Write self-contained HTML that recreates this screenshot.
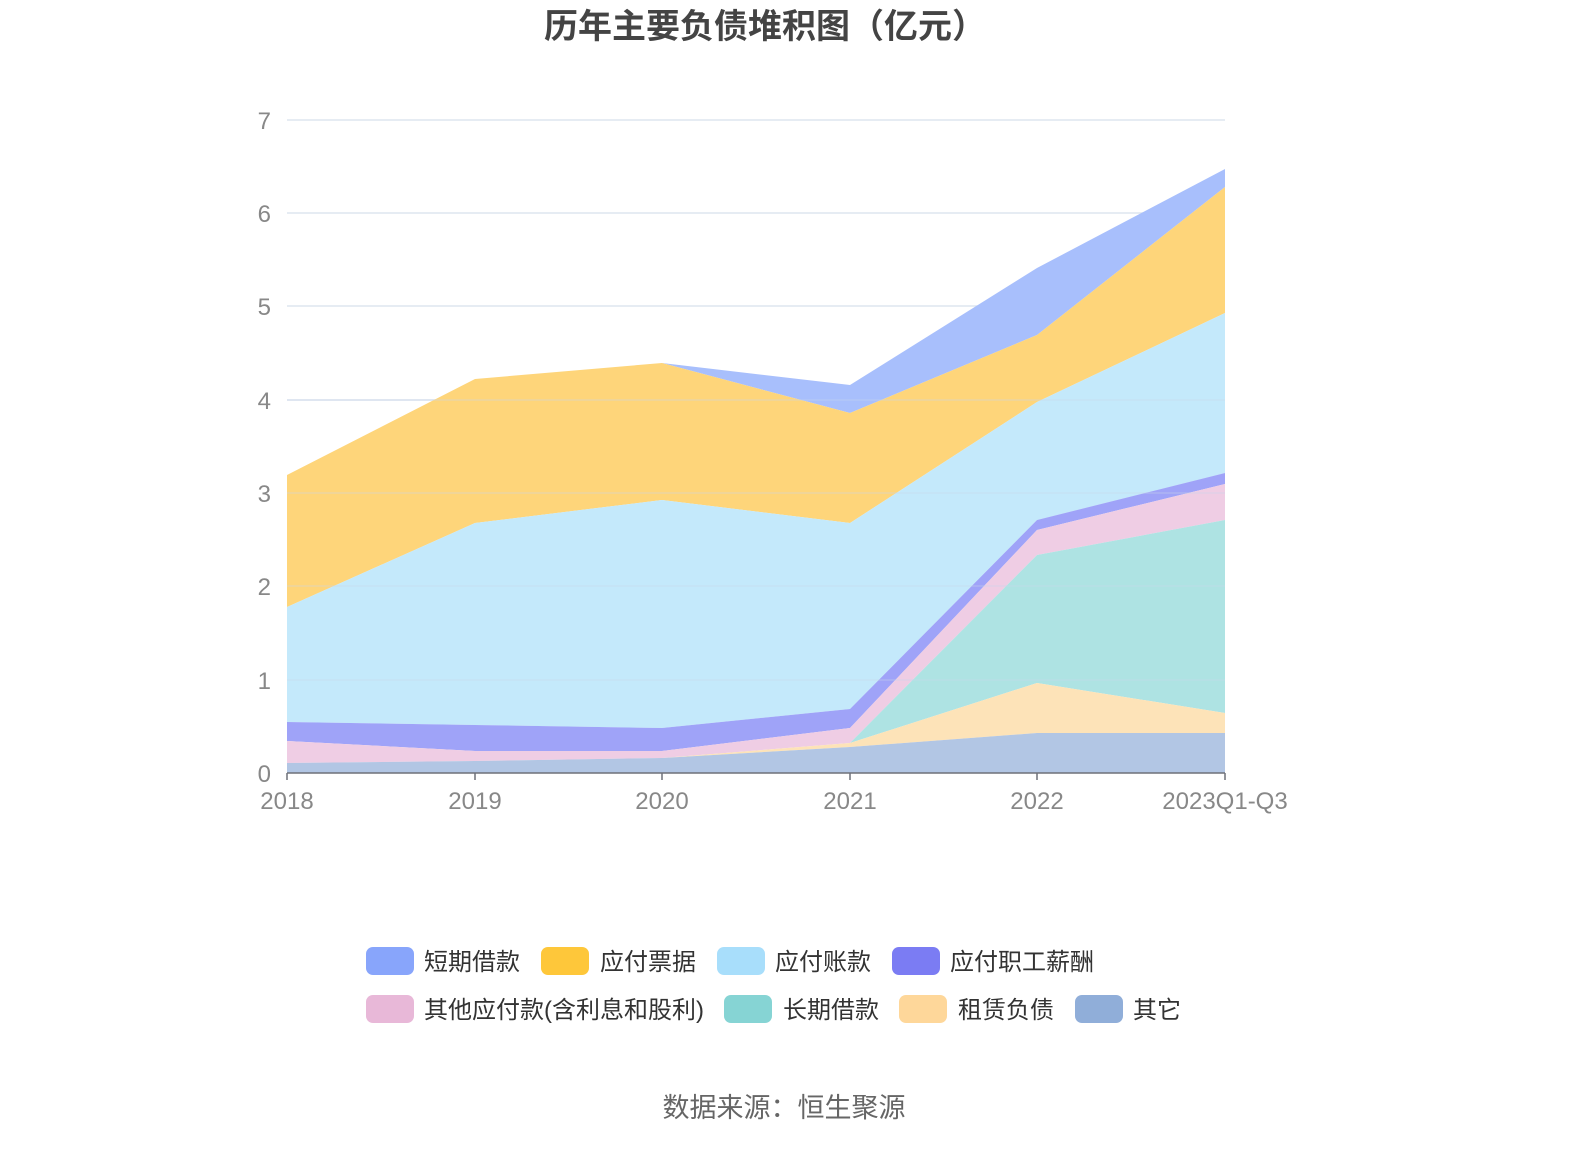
<!DOCTYPE html>
<html><head><meta charset="utf-8"><style>
body{margin:0;background:#fff;}
svg text{font-family:"Liberation Sans","Noto Sans CJK SC",sans-serif;}
</style></head><body>
<svg width="1574" height="1150" viewBox="0 0 1574 1150" xmlns="http://www.w3.org/2000/svg">
<rect width="1574" height="1150" fill="#fff"/>
<text x="765" y="38" text-anchor="middle" font-size="34" font-weight="bold" fill="#444">历年主要负债堆积图（亿元）</text>
<g stroke="#dde5ef" stroke-width="1.5">
<line x1="287" y1="120" x2="1225" y2="120"/><line x1="287" y1="213" x2="1225" y2="213"/>
<line x1="287" y1="306" x2="1225" y2="306"/><line x1="287" y1="400" x2="1225" y2="400"/>
<line x1="287" y1="493" x2="1225" y2="493"/><line x1="287" y1="586" x2="1225" y2="586"/>
<line x1="287" y1="680" x2="1225" y2="680"/>
</g>
<g>
<polygon fill="#a8bffc" points="287,475 475,379 662,363 850,385 1037,268 1225,169 1225,187 1037,335 850,413 662,363 475,379 287,475"/>
<polygon fill="#fed57a" points="287,475 475,379 662,363 850,413 1037,335 1225,187 1225,313 1037,402 850,523 662,500 475,523 287,607"/>
<polygon fill="#c4e9fb" points="287,607 475,523 662,500 850,523 1037,402 1225,313 1225,473 1037,520 850,709 662,728 475,725 287,722"/>
<polygon fill="#9fa3f8" points="287,722 475,725 662,728 850,709 1037,520 1225,473 1225,484 1037,530 850,728 662,751 475,751 287,741"/>
<polygon fill="#efcde4" points="287,741 475,751 662,751 850,728 1037,530 1225,484 1225,520 1037,555 850,743 662,758 475,761 287,763"/>
<polygon fill="#aee3e3" points="287,763 475,761 662,758 850,743 1037,555 1225,520 1225,713 1037,683 850,743 662,758 475,761 287,763"/>
<polygon fill="#fde3b8" points="287,763 475,761 662,758 850,743 1037,683 1225,713 1225,733 1037,733 850,747 662,758 475,761 287,763"/>
<polygon fill="#b2c6e4" points="287,763 475,761 662,758 850,747 1037,733 1225,733 1225,773 287,773"/>
</g>
<g stroke="rgba(200,215,235,0.35)" stroke-width="1.5">
<line x1="287" y1="400" x2="1225" y2="400"/><line x1="287" y1="493" x2="1225" y2="493"/>
<line x1="287" y1="586" x2="1225" y2="586"/><line x1="287" y1="680" x2="1225" y2="680"/>
</g>
<g stroke="#6e7079" stroke-width="1.5">
<line x1="287" y1="773" x2="1225" y2="773"/>
<line x1="287" y1="773" x2="287" y2="780"/><line x1="475" y1="773" x2="475" y2="780"/>
<line x1="662" y1="773" x2="662" y2="780"/><line x1="850" y1="773" x2="850" y2="780"/>
<line x1="1037" y1="773" x2="1037" y2="780"/><line x1="1225" y1="773" x2="1225" y2="780"/>
</g>
<g font-size="24" fill="#888" text-anchor="end">
<text x="271" y="782">0</text><text x="271" y="689">1</text><text x="271" y="595">2</text>
<text x="271" y="502">3</text><text x="271" y="409">4</text><text x="271" y="315">5</text>
<text x="271" y="222">6</text><text x="271" y="129">7</text>
</g>
<g font-size="24" fill="#888" text-anchor="middle">
<text x="287" y="809">2018</text><text x="475" y="809">2019</text><text x="662" y="809">2020</text>
<text x="850" y="809">2021</text><text x="1037" y="809">2022</text><text x="1225" y="809">2023Q1-Q3</text>
</g>
<g font-size="24" fill="#333">
<rect x="366" y="947" width="48" height="28" rx="7" fill="#88a5fb"/><text x="424" y="970">短期借款</text>
<rect x="541" y="947" width="48" height="28" rx="7" fill="#fec73a"/><text x="600" y="970">应付票据</text>
<rect x="717" y="947" width="48" height="28" rx="7" fill="#a8defb"/><text x="775" y="970">应付账款</text>
<rect x="892" y="947" width="48" height="28" rx="7" fill="#7b7cf3"/><text x="950" y="970">应付职工薪酬</text>
<rect x="366" y="995" width="48" height="28" rx="7" fill="#e8b8d8"/><text x="424" y="1018">其他应付款(含利息和股利)</text>
<rect x="724" y="995" width="48" height="28" rx="7" fill="#86d4d4"/><text x="783" y="1018">长期借款</text>
<rect x="899" y="995" width="48" height="28" rx="7" fill="#fed79a"/><text x="958" y="1018">租赁负债</text>
<rect x="1075" y="995" width="48" height="28" rx="7" fill="#90aed9"/><text x="1133" y="1018">其它</text>
</g>
<text x="784" y="1117" text-anchor="middle" font-size="27" fill="#666">数据来源：恒生聚源</text>
</svg>
</body></html>
